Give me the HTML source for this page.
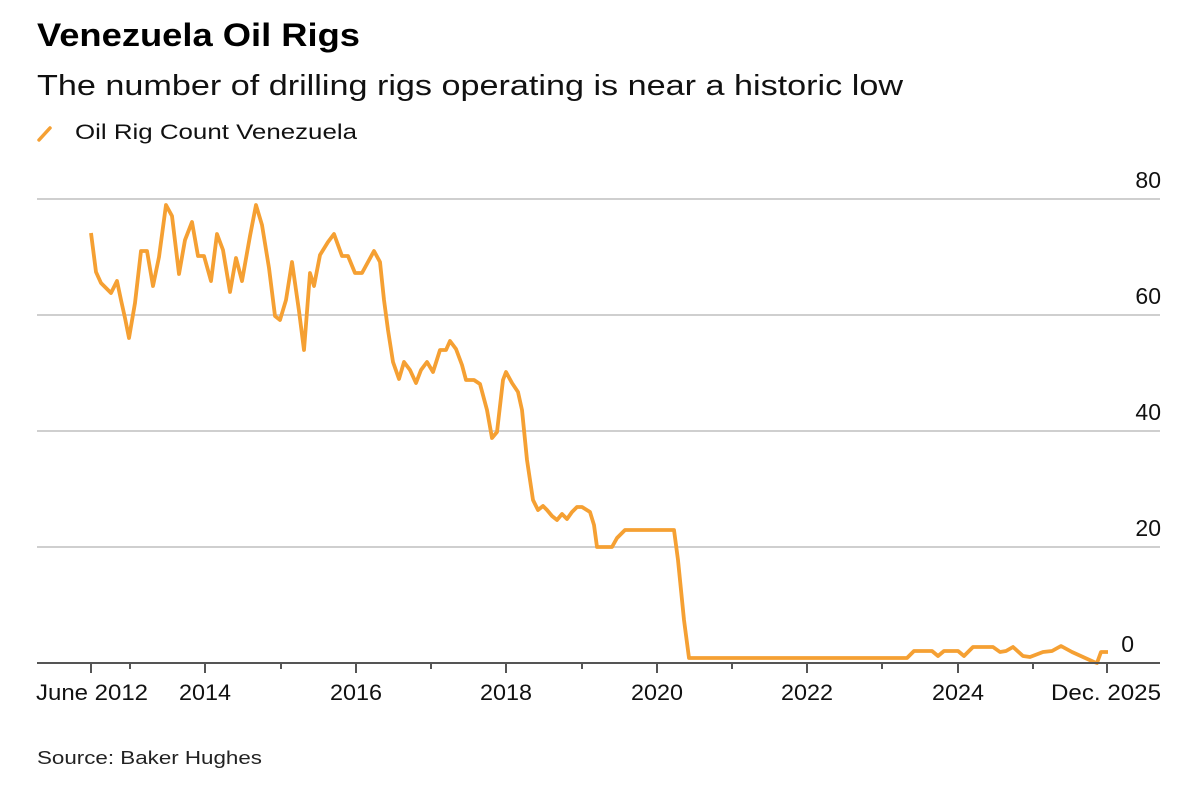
<!DOCTYPE html>
<html><head><meta charset="utf-8"><style>
html,body{margin:0;padding:0;background:#fff;}
svg{display:block;font-family:"Liberation Sans",Arial,sans-serif;}
</style></head><body>
<svg width="1200" height="785" viewBox="0 0 1200 785" xmlns="http://www.w3.org/2000/svg">
<rect width="1200" height="785" fill="#fff"/>
<text x="37" y="46" font-size="32" font-weight="bold" fill="#000" textLength="323" lengthAdjust="spacingAndGlyphs">Venezuela Oil Rigs</text>
<text x="37" y="95" font-size="29" fill="#111" textLength="866" lengthAdjust="spacingAndGlyphs">The number of drilling rigs operating is near a historic low</text>
<line x1="39" y1="140" x2="50" y2="128" stroke="#f5a033" stroke-width="3.5" stroke-linecap="round"/>
<text x="75" y="139" font-size="21" fill="#111" textLength="282" lengthAdjust="spacingAndGlyphs">Oil Rig Count Venezuela</text>
<g stroke="#cfcfcf" stroke-width="2">
<line x1="37" y1="199" x2="1160" y2="199"/>
<line x1="37" y1="315" x2="1160" y2="315"/>
<line x1="37" y1="431" x2="1160" y2="431"/>
<line x1="37" y1="547" x2="1160" y2="547"/>
</g>
<g font-size="23" fill="#111" text-anchor="end">
<text x="1161" y="188">80</text>
<text x="1161" y="304">60</text>
<text x="1161" y="420">40</text>
<text x="1161" y="536">20</text>
<text x="1134" y="652">0</text>
</g>
<polyline fill="none" stroke="#f5a033" stroke-width="3.8" stroke-linejoin="round" points="91,233 96,272 101,283 106,288 111,293 117,281 121,300 125,318 129,338 135,303 141,251 147,251 153,286 159,257 166,205 172,216 179,274 185,240 192,222 198,256 204,256 211,281 217,234 223,250 230,292 236,258 242,281 250,236 256,205 262,225 269,268 275,316 280,320 286,300 292,262 299,311 304,350 310,273 314,286 320,255 328,242 334,234 342,256 348,256 355,273 362,273 368,262 374,251 380,262 384,300 388,330 393,362 399,379 404,362 410,370 416,383 421,370 427,362 433,372 440,350 446,350 450,341 456,349 462,365 466,380 474,380 480,384 487,410 492,438 497,432 503,380 506,372 512,383 518,392 522,410 527,460 533,500 538,510 543,506 547,510 552,516 557,520 562,514 567,519 572,512 577,507 582,507 590,512 594,525 597,547 612,547 617,538 625,530 674,530 678,560 684,620 689,658 907,658 914,651 932,651 938,656 944,651 958,651 964,656 973,647 993,647 1000,652 1006,651 1013,647 1023,656 1030,657 1043,652 1052,651 1061,646 1072,652 1094,662 1097,663 1101,652 1108,652"/>
<line x1="37" y1="663" x2="1160" y2="663" stroke="#555" stroke-width="2"/>
<g stroke="#555" stroke-width="2">
<line x1="91" y1="663" x2="91" y2="673"/>
<line x1="130" y1="663" x2="130" y2="669"/>
<line x1="205" y1="663" x2="205" y2="673"/>
<line x1="281" y1="663" x2="281" y2="669"/>
<line x1="356" y1="663" x2="356" y2="673"/>
<line x1="431" y1="663" x2="431" y2="669"/>
<line x1="506" y1="663" x2="506" y2="673"/>
<line x1="582" y1="663" x2="582" y2="669"/>
<line x1="657" y1="663" x2="657" y2="673"/>
<line x1="732" y1="663" x2="732" y2="669"/>
<line x1="807" y1="663" x2="807" y2="673"/>
<line x1="882" y1="663" x2="882" y2="669"/>
<line x1="958" y1="663" x2="958" y2="673"/>
<line x1="1033" y1="663" x2="1033" y2="669"/>
<line x1="1107" y1="663" x2="1107" y2="673"/>
</g>
<g font-size="22" fill="#111" text-anchor="middle">
<text x="92" y="700" textLength="112" lengthAdjust="spacingAndGlyphs">June 2012</text>
<text x="205" y="700" textLength="52" lengthAdjust="spacingAndGlyphs">2014</text>
<text x="356" y="700" textLength="52" lengthAdjust="spacingAndGlyphs">2016</text>
<text x="506" y="700" textLength="52" lengthAdjust="spacingAndGlyphs">2018</text>
<text x="657" y="700" textLength="52" lengthAdjust="spacingAndGlyphs">2020</text>
<text x="807" y="700" textLength="52" lengthAdjust="spacingAndGlyphs">2022</text>
<text x="958" y="700" textLength="52" lengthAdjust="spacingAndGlyphs">2024</text>
<text x="1106" y="700" textLength="110" lengthAdjust="spacingAndGlyphs">Dec. 2025</text>
</g>
<text x="37" y="764" font-size="18" fill="#222" textLength="225" lengthAdjust="spacingAndGlyphs">Source: Baker Hughes</text>
</svg>
</body></html>
